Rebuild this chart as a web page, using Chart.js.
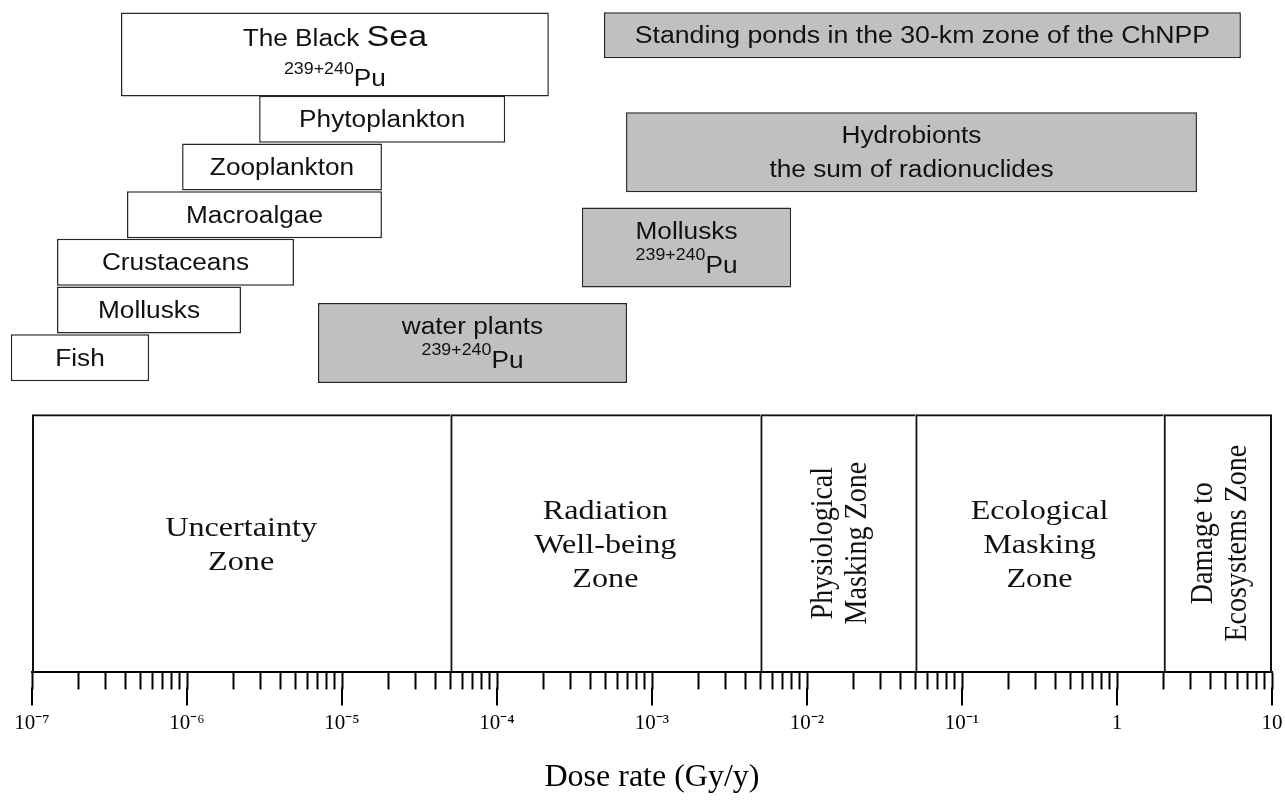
<!DOCTYPE html>
<html lang="en">
<head>
<meta charset="utf-8">
<title>Dose rate zones</title>
<script src="https://cdn.jsdelivr.net/npm/chart.js@4.4.1/dist/chart.umd.min.js"></script>
<style>
  html, body { margin: 0; padding: 0; background: #fff; }
  canvas { display: block; }
</style>
</head>
<body>
<canvas id="graficoDosis" width="1285" height="800"></canvas>
<script>
// Eje de tasa de dosis (Gy/y)
const decadeValues = [1e-7, 1e-6, 1e-5, 1e-4, 1e-3, 1e-2, 1e-1, 1, 10];
const decadeLabels = ["10⁻⁷", "10⁻⁶", "10⁻⁵", "10⁻⁴", "10⁻³", "10⁻²", "10⁻¹", "1", "10"];

// Zonas de la escala
const zoneNames = [
  ["Uncertainty", "Zone"],
  ["Radiation", "Well-being", "Zone"],
  ["Physiological", "Masking Zone"],
  ["Ecological", "Masking", "Zone"],
  ["Damage to", "Ecosystems Zone"],
];
const zoneFrom = [1e-7, 5e-5, 5e-3, 5e-2, 2];
const zoneTo = [5e-5, 5e-3, 5e-2, 2, 10];
const zoneVertical = [false, false, true, false, true];
const zoneRow = [9.89, 9.89, 9.89, 9.89, 9.89];

// Mar Negro, 239+240Pu
const blackSeaLabels = [["The Black *{Sea}", "^{239+240}Pu"]];
const blackSeaFrom = [3.75e-7];
const blackSeaTo = [2.16e-4];
const blackSeaRow = [-0.36];

const biotaLabels = [["Phytoplankton"], ["Zooplankton"], ["Macroalgae"], ["Crustaceans"], ["Mollusks"], ["Fish"]];
const biotaFrom = [2.92e-6, 9.3e-7, 4.1e-7, 1.45e-7, 1.45e-7, 7.3e-8];
const biotaTo = [1.13e-4, 1.81e-5, 1.81e-5, 4.9e-6, 2.23e-6, 5.7e-7];
const biotaRow = [1, 2, 3, 4, 5, 6];

// Zona de 30 km de la ChNPP
const pondLabels = [["Standing ponds in the 30-km zone of the ChNPP"]];
const pondFrom = [4.9e-4];
const pondTo = [6.3];
const pondRow = [-0.76];

const chnppLabels = [
  ["Hydrobionts", "the sum of radionuclides"],
  ["Mollusks", "^{239+240}Pu"],
  ["water plants", "^{239+240}Pu"],
];
const chnppFrom = [6.8e-4, 3.53e-4, 7.0e-6];
const chnppTo = [3.28, 7.9e-3, 6.9e-4];
const chnppRow = [1.69, 3.69, 5.69];

// Convertir a barras flotantes
function barras(desde, hasta, fila) {
  return desde.map((v, i) => ({ x: [v, hasta[i]], y: fila[i] }));
}

// Texto con superindices ^{..} y letra grande *{..}
function partes(linea, size) {
  const out = [];
  const re = /\^\{([^}]*)\}|\*\{([^}]*)\}|([^^*]+)/g;
  let m;
  while ((m = re.exec(linea))) {
    if (m[1] !== undefined) out.push({ t: m[1], s: size * 0.68, dy: -size * 0.55 });
    else if (m[2] !== undefined) out.push({ t: m[2], s: size * 1.3, dy: 0 });
    else out.push({ t: m[3], s: size, dy: 0 });
  }
  return out;
}

function escribir(ctx, lineas, cx, cy, opt) {
  ctx.save();
  ctx.translate(cx, cy);
  ctx.scale(opt.stretch, 1);
  if (opt.vertical) ctx.rotate(-Math.PI / 2);
  ctx.fillStyle = "#111";
  ctx.textBaseline = "alphabetic";
  ctx.textAlign = "left";
  const n = lineas.length;
  lineas.forEach((linea, i) => {
    const segs = partes(linea, opt.size);
    let w = 0;
    segs.forEach((s) => {
      ctx.font = s.s + "px " + opt.family;
      s.w = ctx.measureText(s.t).width;
      w += s.w;
    });
    let x = -w / 2;
    const y = (i - (n - 1) / 2) * opt.gap + opt.size * 0.35 + (opt.dy || 0);
    segs.forEach((s) => {
      ctx.font = s.s + "px " + opt.family;
      ctx.fillText(s.t, x, y + s.dy);
      x += s.w;
    });
  });
  ctx.restore();
}

// Plugin para escribir los textos dentro de cada caja
const etiquetas = {
  id: "etiquetas",
  afterDatasetsDraw(chart) {
    const ctx = chart.ctx;
    chart.data.datasets.forEach((ds, d) => {
      if (!ds.textos) return;
      chart.getDatasetMeta(d).data.forEach((el, i) => {
        const { x, base, y } = el.getProps(["x", "base", "y"], true);
        const vertical = ds.verticales ? ds.verticales[i] : false;
        escribir(ctx, ds.textos[i], (x + base) / 2, y, {
          size: ds.textoSize,
          family: ds.textoFamilia,
          stretch: ds.textoStretch,
          gap: vertical ? 30 : ds.textoGap,
          dy: ds.textoDy,
          vertical: vertical,
        });
      });
    });
  },
  // Ticks mayores mas largos
  afterDraw(chart) {
    const ctx = chart.ctx;
    const escala = chart.scales.x;
    ctx.save();
    ctx.strokeStyle = "#000";
    ctx.lineWidth = 2;
    decadeValues.forEach((v) => {
      const px = Math.round(escala.getPixelForValue(v));
      ctx.beginPath();
      ctx.moveTo(px, escala.top + 15);
      ctx.lineTo(px, escala.top + 33);
      ctx.stroke();
    });
    ctx.restore();
  },
};

const sansFont = "'Liberation Sans', Arial, sans-serif";
const serifFont = "'Liberation Serif', 'Times New Roman', serif";
const borde = "#262626";

const ctx = document.getElementById("graficoDosis").getContext("2d");
const grafico = new Chart(ctx, {
  type: "bar",
  data: {
    datasets: [
      {
        label: "Zones",
        data: barras(zoneFrom, zoneTo, zoneRow),
        backgroundColor: "rgba(0,0,0,0)",
        borderColor: "#111",
        borderWidth: (c) => ({
          top: 2,
          bottom: 0,
          left: 2,
          right: c.dataIndex === zoneFrom.length - 1 ? 2 : 0,
        }),
        barThickness: 258,
        textos: zoneNames,
        verticales: zoneVertical,
        textoSize: 28,
        textoFamilia: serifFont,
        textoStretch: 1.15,
        textoGap: 34,
        textoDy: 0,
      },
      {
        label: "The Black Sea",
        data: barras(blackSeaFrom, blackSeaTo, blackSeaRow),
        backgroundColor: "#ffffff",
        borderColor: borde,
        borderWidth: 1.5,
        barThickness: 84,
        textos: blackSeaLabels,
        textoSize: 23,
        textoFamilia: sansFont,
        textoStretch: 1.14,
        textoGap: 40,
        textoDy: 4,
      },
      {
        label: "Black Sea biota",
        data: barras(biotaFrom, biotaTo, biotaRow),
        backgroundColor: "#ffffff",
        borderColor: borde,
        borderWidth: 1.5,
        barThickness: 47,
        textos: biotaLabels,
        textoSize: 23,
        textoFamilia: sansFont,
        textoStretch: 1.14,
        textoGap: 34,
        textoDy: 0,
      },
      {
        label: "Standing ponds",
        data: barras(pondFrom, pondTo, pondRow),
        backgroundColor: "#c0c0c0",
        borderColor: borde,
        borderWidth: 1.5,
        barThickness: 46,
        textos: pondLabels,
        textoSize: 23,
        textoFamilia: sansFont,
        textoStretch: 1.16,
        textoGap: 34,
        textoDy: 0,
      },
      {
        label: "ChNPP biota",
        data: barras(chnppFrom, chnppTo, chnppRow),
        backgroundColor: "#c0c0c0",
        borderColor: borde,
        borderWidth: 1.5,
        barThickness: 80,
        textos: chnppLabels,
        textoSize: 23,
        textoFamilia: sansFont,
        textoStretch: 1.14,
        textoGap: 34,
        textoDy: 0,
      },
    ],
  },
  options: {
    indexAxis: "y",
    responsive: false,
    animation: false,
    datasets: {
      bar: { grouped: false, borderSkipped: false, inflateAmount: 0, clip: false },
    },
    layout: { padding: { left: 32, right: 13, top: 12, bottom: 3 } },
    plugins: {
      legend: { display: false },
      tooltip: { enabled: false },
    },
    scales: {
      x: {
        type: "logarithmic",
        position: "bottom",
        min: 1e-7,
        max: 10,
        afterBuildTicks: (escala) => {
          const valores = [];
          decadeValues.forEach((d, i) => {
            valores.push(d);
            if (i < decadeValues.length - 1) {
              for (let m = 2; m <= 9; m++) valores.push(d * m);
            }
          });
          escala.ticks = valores.map((v) => ({ value: v }));
        },
        // el margen lateral lo da layout.padding
        afterFit: (escala) => {
          escala.paddingLeft = 0;
          escala.paddingRight = 0;
        },
        border: { display: true, color: "#000", width: 2 },
        grid: {
          drawOnChartArea: false,
          drawTicks: true,
          tickLength: 17,
          tickWidth: 2,
          tickColor: "#000",
        },
        ticks: {
          autoSkip: false,
          maxRotation: 0,
          padding: 21,
          color: "#000",
          font: { family: serifFont, size: 21 },
          callback: (value) => {
            const i = decadeValues.indexOf(value);
            return i >= 0 ? decadeLabels[i] : "";
          },
        },
        title: {
          display: true,
          text: "Dose rate (Gy/y)",
          color: "#000",
          font: { family: serifFont, size: 32 },
          padding: { top: 2, bottom: 0 },
        },
      },
      y: {
        type: "linear",
        min: -1.25,
        max: 12.6,
        reverse: true,
        offset: false,
        display: false,
      },
    },
  },
  plugins: [etiquetas],
});
</script>
</body>
</html>
